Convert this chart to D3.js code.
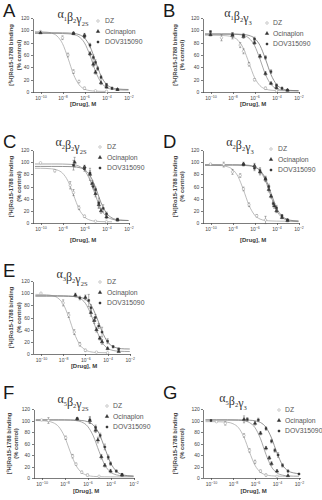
<!DOCTYPE html>
<html><head><meta charset="utf-8">
<script src="https://cdn.jsdelivr.net/npm/d3@7"></script>
<style>
body{margin:0;background:#fff}
svg{display:block}
.axis path,.axis line{stroke:#444;stroke-width:0.7;shape-rendering:crispEdges}
.axis text{font-family:"Liberation Sans",Arial,sans-serif;font-size:5px;fill:#444}
</style>
</head><body>
<svg id="c" width="322" height="500"></svg>
<script>
// ---------- data ----------
const panelLetters = ["A","B","C","D","E","F","G"];
const alphaSub = ["1","1","2","2","3","5","5"];
const betaSub  = ["2","2","2","2","2","2","2"];
const gammaSub = ["2S","3","2S","3","2S","2S","3"];
const seriesNames = ["DZ","Ocinaplon","DOV315090"];
const yTicks = [0,20,40,60,80,100,120];
const xTickExps = [-10,-8,-6,-4,-2];
const yAxisTitle = ["[\u00B3H]Ro15-1788 binding","(% control)"];
const xAxisTitle = "[Drug], M";

// fitted curves: % control at each log10 dose
const curveLogDose = [-10.5,-10,-9.5,-9,-8.5,-8,-7.5,-7,-6.5,-6,-5.5,-5,-4.5,-4,-3.5,-3,-2.5,-2];
const curveDZ = [
  [98,97.7,97.2,95.6,90.8,78.5,55.0,28.6,11.9,4.7,2.2,1.4,1.1,1.0,null,null,null,null],
  [92,92,91.9,91.7,91.1,89.2,83.8,70.4,47,23.6,10.2,4.8,2.9,2.3,2.1,2.0,2.0,2.0],
  [90,89.9,89.7,89.1,87.3,82.0,68.9,46,23.1,10.0,4.7,2.9,2.3,2.1,2.0,null,null,null],
  [95,94.9,94.8,94.3,92.7,88.2,76.5,54.2,29.2,13.3,6.5,4.1,3.4,3.1,3.0,3.0,3.0,3.0],
  [98,97.8,97.4,96.1,92.3,82.1,60.8,34.1,15.2,6.6,3.5,2.5,2.2,2.0,null,null,null,null],
  [99.9,99.6,98.8,96.3,89.0,72.1,45.4,21.7,9.3,4.5,2.8,2.3,2.1,2.0,2.0,2.0,2.0,2.0],
  [98,98,97.9,97.6,96.9,94.4,87.4,70.9,45.1,22.1,10.0,5.4,3.8,3.2,3.1,3.0,null,null]
];
const curveOcinaplon = [
  [95,95,95,95,95,94.8,94.4,93.2,89.6,79.7,59.4,33.7,15.6,7.4,4.4,3.5,3.1,3.0],
  [94,94,94,94,94,93.8,93.3,91.7,87.2,75.5,53.2,28.2,12.3,5.5,3.1,2.4,2.1,2.0],
  [97,97,97,97,97,96.9,96.6,95.9,93.5,86.6,70.5,45.2,22.7,10.9,6.3,4.7,4.2,4.1],
  [96,96,96,96,96,96,95.9,95.6,94.9,92.4,85.5,69.2,43.6,20.9,9.0,4.4,2.8,2.2],
  [96,96,96,96,96,95.8,95.5,94.5,91.6,83.4,65.3,39.6,19.3,9.4,5.8,4.6,4.2,4.1],
  [101,101,101,101,101,100.9,100.7,99.8,97.3,90.0,73.1,46.4,22.7,10.3,5.5,3.8,3.3,3.1],
  [101,101,101,101,101,100.8,100.5,99.4,96.3,87.6,68.3,40.9,19.3,8.8,5.0,3.6,3.2,3.1]
];
const curveDOV = [
  [96,96,96,96,96,95.9,95.7,95.1,93.1,87.6,73.9,50,26.1,12.4,6.9,4.9,4.3,4.1],
  [94,94,94,94,94,94,93.8,93.3,91.7,87.2,75.5,53.2,28.2,12.3,5.5,3.1,2.4,2.1],
  [93,93,93,93,93,92.9,92.8,92.5,91.2,87.7,78.2,58.6,33.7,16.2,8.3,5.4,4.5,4.1],
  [95,95,95,95,95,95,95,94.7,94.1,92.1,86.6,72.9,49,25.1,11.4,5.9,3.9,3.3],
  [95,95,95,95,95,95,94.8,94.5,93.3,89.9,80.6,61.3,37.1,19.9,12.2,9.4,8.4,8.2],
  [101,101,101,101,101,101,100.9,100.7,100.0,98.0,92.1,77.5,52,26.5,11.9,6.0,4.0,3.3],
  [101,101,101,101,101,101,101,100.9,100.5,99.5,96.5,88.1,69.6,43.4,22.6,12.5,8.9,7.6]
];

// measured points: [log10 dose, % control, SEM]
const pointsDZ = [
  [[-10,98,1],[-8,88,3],[-7.5,60,3],[-7,33,3],[-6.5,17,2],[-6,6,2],[-5,2,1],[-4,1,1]],
  [[-9,88,5],[-8,91,5],[-7.3,76,4],[-7,66,4],[-6.5,45,3],[-6,20,2],[-5,6,2],[-4,2,1]],
  [[-10,99,1],[-8.7,86,2],[-7.3,62,6],[-7,50,5],[-6.5,25,3],[-6,11,2],[-5,3,1],[-4,2,1]],
  [[-10,97,1],[-8.8,96,4],[-8,84,4],[-7.3,78,3],[-7,56,3],[-6.5,30,3],[-5.8,12,2],[-5,5,6]],
  [[-10,100,1],[-8,84,5],[-7.5,64,4],[-7,36,4],[-6.5,16,3],[-6,6,2],[-5,3,1],[-4,2,1]],
  [[-10,101,1],[-9.4,100,5],[-7.9,70,3],[-7.3,38,3],[-7,24,2],[-6.5,10,2],[-6,5,2],[-5,3,1]],
  [[-9.5,98,1],[-8.7,95,3],[-7,74,3],[-6.5,48,3],[-6,28,3],[-5.5,12,2],[-5,5,2],[-4,3,1]]
];
const pointsOcinaplon = [
  [[-10,96,1],[-7,95,2],[-6,92,3],[-5.5,62,3],[-5.2,45,4],[-5,32,3],[-4.5,15,3],[-4,8,2],[-3,4,1]],
  [[-10,93,2],[-8,92,4],[-7,90,3],[-6,80,3],[-5.5,58,3],[-5,30,3],[-4.5,14,2],[-4,7,2],[-3,3,1]],
  [[-6.9,100,8],[-6,92,3],[-5.5,80,10],[-5.3,65,5],[-5,48,5],[-4.7,30,6],[-4.5,20,4],[-4,10,3],[-3,5,2]],
  [[-7,97,3],[-6,94,4],[-5.5,84,5],[-5,72,4],[-4.7,55,4],[-4.5,44,3],[-4.2,28,4],[-4,20,3],[-3.5,9,2],[-3,4,2]],
  [[-6.9,97,3],[-6,93,4],[-5.5,68,6],[-5.2,55,5],[-5,40,4],[-4.7,26,3],[-4.5,20,4],[-4,9,2],[-3,4,1]],
  [[-6.9,103,2],[-5.8,100,5],[-5.3,83,4],[-5.1,66,5],[-4.8,37,4],[-4.5,22,3],[-4,12,3],[-3,5,2]],
  [[-7,102,6],[-6,95,3],[-5.5,78,3],[-5,52,3],[-4.7,35,3],[-4.5,25,3],[-4,12,2],[-3,4,1]]
];
const pointsDOV = [
  [[-7,95,2],[-6,90,3],[-5.5,76,3],[-5.2,56,4],[-5,48,4],[-4.8,38,3],[-4.5,24,3],[-4,12,2],[-3.5,6,2],[-3,4,1]],
  [[-10,98,1],[-8,93,3],[-7,92,3],[-6,86,3],[-5,56,3],[-4.5,33,3],[-4,11,2],[-3.5,6,2],[-3,3,1]],
  [[-7,95,8],[-6,89,4],[-5.5,82,4],[-5.2,60,4],[-5,55,4],[-4.7,33,8],[-4.3,24,6],[-4,15,3],[-3,6,2]],
  [[-7,96,2],[-6,90,4],[-5.5,86,5],[-5,73,4],[-4.7,60,4],[-4.3,32,4],[-4,25,4],[-3.5,12,2],[-3,5,2]],
  [[-6.5,92,3],[-5.7,88,10],[-5.5,76,5],[-5.1,60,5],[-4.8,46,4],[-4.5,36,8],[-4,21,4],[-3.5,12,2],[-3,8,2]],
  [[-6.9,103,2],[-5.8,101,6],[-5.3,88,4],[-4.9,74,4],[-4.5,54,5],[-4.2,36,4],[-4,25,3],[-3.5,12,2],[-3,6,2]],
  [[-10,100,1],[-6.7,102,3],[-5.7,101,3],[-5,86,3],[-4.5,64,3],[-4.2,48,3],[-3.9,40,4],[-3.5,22,3],[-3,12,2],[-2,7,1]]
];

// ---------- layout (pixels) ----------
const layout = [
  {x0:32.8, x1:129.6, yt:18,  yb:92,  letter:[3,17],    title:[73,18],   legend:[98,105,21],   ylab:[11,18.5], drugY:106},
  {x0:202.8,x1:299.6, yt:18,  yb:92,  letter:[163,17],  title:[238,17],  legend:[267,273,23],  ylab:[175,182], drugY:106},
  {x0:32.8, x1:129.6, yt:150, yb:223, letter:[3,148],   title:[71,146],  legend:[100,107,147], ylab:[11,18.5], drugY:242},
  {x0:202.8,x1:299.6, yt:150, yb:223, letter:[163,148], title:[240,146], legend:[271,278,149], ylab:[175,182], drugY:242},
  {x0:33.2, x1:130.9, yt:281, yb:354, letter:[3,277],   title:[72,278],  legend:[100,107,282], ylab:[11,18.5], drugY:368},
  {x0:33.5, x1:134.7, yt:409, yb:478, letter:[3,399],   title:[73,403],  legend:[107,113,406], ylab:[9,16],    drugY:493},
  {x0:203.3,x1:300.1, yt:409, yb:478, letter:[163,399], title:[233,402], legend:[279,285,410], ylab:[175,182], drugY:493}
];
const xDomain = [-10.7,-1.9];
const curveColors = ["#ababab","#909090","#777"];
const markerFill = ["#fff","#333","#333"];
const markerStroke = ["#999","#333","#333"];
const markerType = [d3.symbolCircle, d3.symbolTriangle, d3.symbolSquare];
const markerSize = [5, 5, 3.5];
const sans = '"Liberation Sans",Arial,sans-serif';
const serif = '"Liberation Serif","DejaVu Serif",serif';

const svg = d3.select("#c");

panelLetters.forEach((letter, i) => {
  const L = layout[i];
  const x = d3.scaleLinear().domain(xDomain).range([L.x0, L.x1]);
  const y = d3.scaleLinear().domain([0,120]).range([L.yb, L.yt]);
  const g = svg.append("g");

  g.append("text").attr("x", L.letter[0]).attr("y", L.letter[1])
    .attr("font-family", sans).attr("font-size", 18.5).attr("fill", "#1a1a1a").text(letter);

  const t = g.append("text").attr("x", L.title[0]).attr("y", L.title[1])
    .attr("text-anchor", "middle").attr("font-family", serif).attr("fill", "#333");
  [["\u03B1", alphaSub[i]], ["\u03B2", betaSub[i]], ["\u03B3", gammaSub[i]]].forEach(([gl, sub]) => {
    t.append("tspan").attr("font-size", 12).text(gl);
    t.append("tspan").attr("font-size", 6.5).attr("dy", 2.5).text(sub);
    t.append("tspan").attr("font-size", 6.5).attr("dy", -2.5).text("");
  });

  g.append("g").attr("class", "axis").attr("transform", `translate(${L.x0},0)`)
    .call(d3.axisLeft(y).tickValues(yTicks).tickSize(2).tickSizeOuter(0).tickPadding(1.5));
  const xa = g.append("g").attr("class", "axis").attr("transform", `translate(0,${L.yb})`)
    .call(d3.axisBottom(x).tickValues(xTickExps).tickSize(2).tickSizeOuter(0).tickFormat(""));
  xa.selectAll(".tick").append("text").attr("y", 7.5).attr("text-anchor", "middle")
    .each(function(e) {
      const s = d3.select(this);
      s.append("tspan").text("10");
      s.append("tspan").attr("font-size", 3.6).attr("dy", -2).text(String(e).replace("-", "\u2212"));
    });

  g.append("text").attr("x", (L.x0 + L.x1) / 2 + 2).attr("y", L.drugY).attr("text-anchor", "middle")
    .attr("font-family", sans).attr("font-size", 6).attr("font-weight", "bold").attr("fill", "#3a3a3a").text(xAxisTitle);
  const ym = (L.yt + L.yb) / 2;
  yAxisTitle.forEach((s, k) => {
    g.append("text").attr("transform", `translate(${L.ylab[k] + 2},${ym}) rotate(-90)`)
      .attr("text-anchor", "middle").attr("font-family", sans).attr("font-size", 5.8)
      .attr("font-weight", "bold").attr("fill", "#444").text(s);
  });

  const line = d3.line().defined(d => d[1] != null).x(d => x(d[0])).y(d => y(d[1])).curve(d3.curveMonotoneX);
  [curveDZ, curveOcinaplon, curveDOV].forEach((cs, s) => {
    const data = curveLogDose.map((ld, j) => [ld, cs[i][j]]);
    g.append("path").datum(data).attr("d", line).attr("fill", "none")
      .attr("stroke", curveColors[s]).attr("stroke-width", 0.8);
  });

  [pointsDZ, pointsOcinaplon, pointsDOV].forEach((ps, s) => {
    const pg = g.append("g");
    ps[i].forEach(([ld, v, e]) => {
      const px = x(ld);
      if (e > 1) {
        pg.append("line").attr("x1", px).attr("x2", px).attr("y1", y(v - e)).attr("y2", y(v + e))
          .attr("stroke", "#666").attr("stroke-width", 0.5);
        [v - e, v + e].forEach(yy => pg.append("line").attr("x1", px - 1.1).attr("x2", px + 1.1)
          .attr("y1", y(yy)).attr("y2", y(yy)).attr("stroke", "#666").attr("stroke-width", 0.5));
      }
      pg.append("path").attr("transform", `translate(${px},${y(v)})`)
        .attr("d", d3.symbol().type(markerType[s]).size(markerSize[s])())
        .attr("fill", markerFill[s]).attr("stroke", markerStroke[s]).attr("stroke-width", 0.5);
    });
  });

  seriesNames.forEach((name, s) => {
    const ly = L.legend[2] + s * 10.5;
    g.append("path").attr("transform", `translate(${L.legend[0]},${ly})`)
      .attr("d", d3.symbol().type(markerType[s]).size(markerSize[s])())
      .attr("fill", markerFill[s]).attr("stroke", markerStroke[s]).attr("stroke-width", 0.5);
    g.append("text").attr("x", L.legend[1]).attr("y", ly + 2.3).attr("font-family", sans)
      .attr("font-size", 6.8).attr("fill", "#555").text(name);
  });
});
</script>
</body></html>
